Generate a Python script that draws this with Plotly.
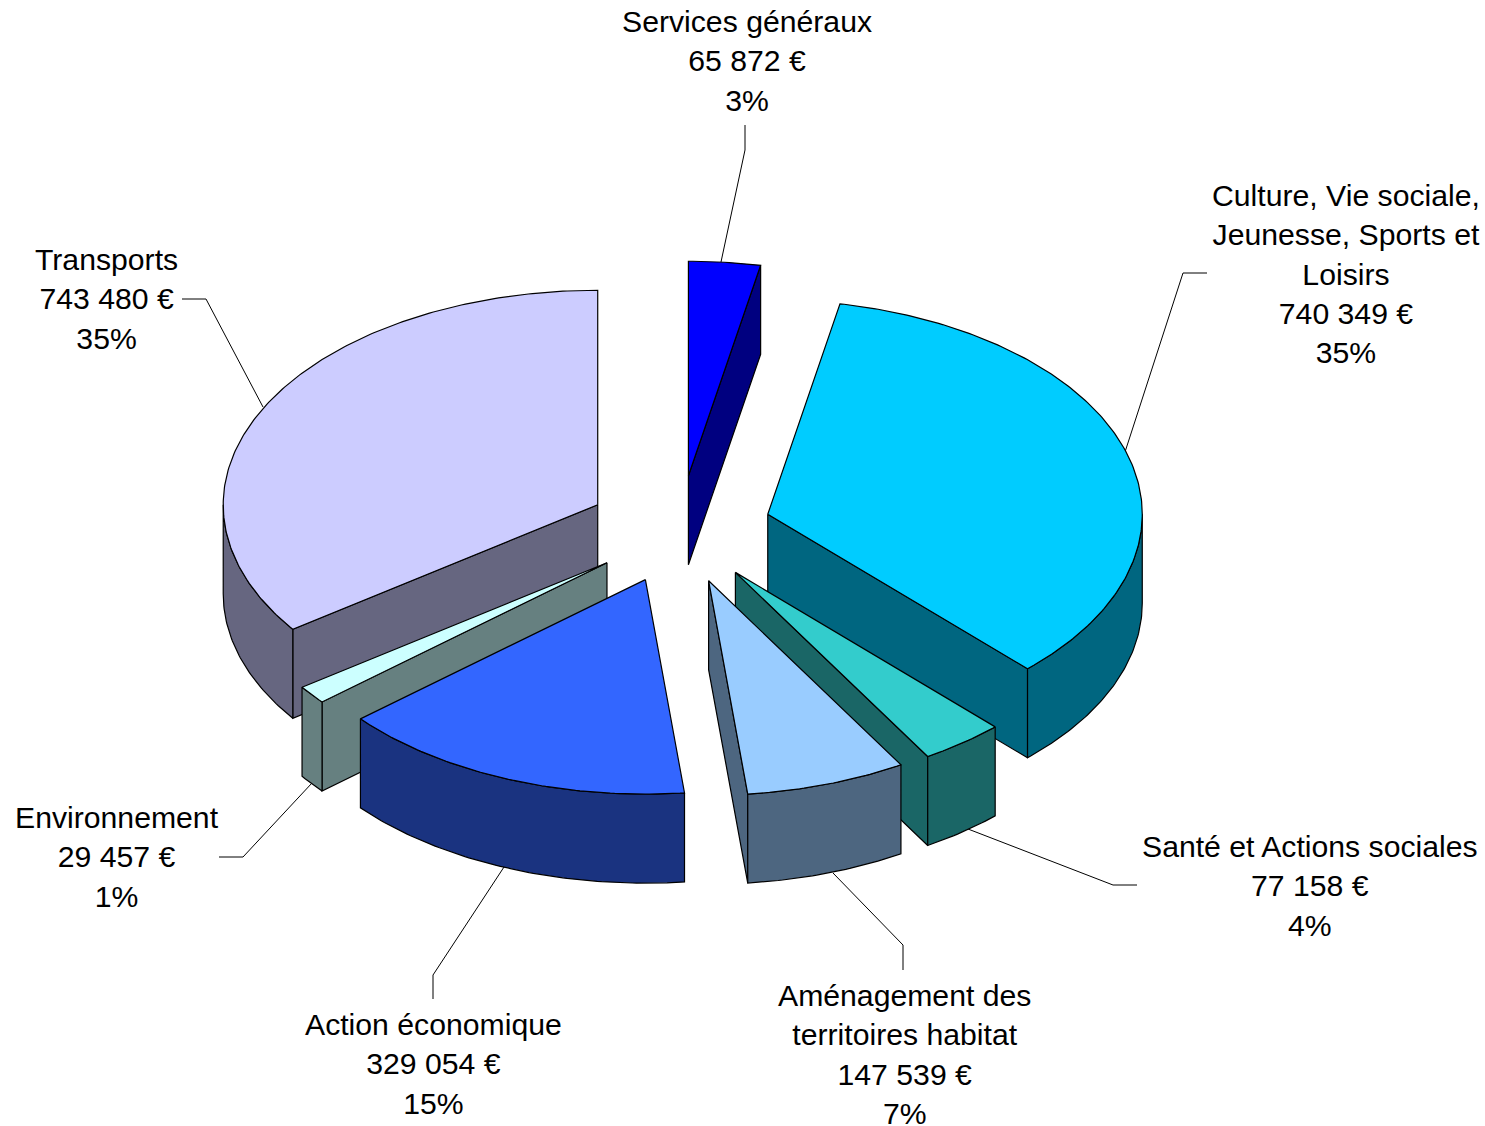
import math
import plotly.graph_objects as go

# --- data -----------------------------------------------------------------
categories = ["Services généraux", "Culture, Vie sociale, Jeunesse, Sports et Loisirs",
              "Santé et Actions sociales", "Aménagement des territoires habitat",
              "Action économique", "Environnement", "Transports"]
label_lines = ["Services généraux", "Culture, Vie sociale,<br>Jeunesse, Sports et<br>Loisirs",
               "Santé et Actions sociales", "Aménagement des<br>territoires habitat",
               "Action économique", "Environnement", "Transports"]
values = [65872, 740349, 77158, 147539, 329054, 29457, 743480]
top_colors = ["#0000FF", "#00CCFF", "#33CCCC", "#99CCFF", "#3366FF", "#CCFFFF", "#CCCCFF"]
side_colors = ["#000080", "#006680", "#1A6666", "#4D6680", "#1A3380", "#668080", "#666680"]

# --- layout of the pie ----------------------------------------------------
W, H = 1485, 1126
CX, CY = 679.5, 529.5     # pie centre
RX, RY = 374.5, 214.5     # ellipse radii of the tilted disc
EXPLODE_X = 92.0          # explosion distance, horizontal
EXPLODE_Y = 54.0          # explosion distance, vertical
DEPTH = 89.0              # thickness
FONT_SIZE = 30.2

label_pos = [(746.5, 61), (1346, 274), (1310, 886), (904, 1054), (433, 1064), (117, 857), (106.5, 299)]
leaders = [
    [(745, 125), (745, 150), (721, 262)],
    [(1207, 273), (1183, 273), (1125, 452)],
    [(1137, 885), (1113, 885), (968, 829)],
    [(903, 970), (903, 945), (833, 873)],
    [(433, 999), (433, 975), (504, 867)],
    [(219, 857), (243, 857), (312, 783)],
    [(182, 299), (206, 299), (263, 407)],
]

total = sum(values)
fig = go.Figure()

# leader lines sit behind the slices
for pts in leaders:
    fig.add_trace(go.Scatter(x=[p[0] for p in pts], y=[p[1] for p in pts], mode="lines",
                             line=dict(color="#000000", width=1), hoverinfo="skip", showlegend=False))


def rim(ax, ay, t0, t1, dy=0.0, n=None):
    n = n or max(2, int(abs(t1 - t0) * 1.5) + 1)
    xs, ys = [], []
    for i in range(n):
        t = math.radians(t0 + (t1 - t0) * i / (n - 1))
        xs.append(ax + RX * math.sin(t))
        ys.append(ay - RY * math.cos(t) + dy)
    return xs, ys


def poly(xs, ys, color, name):
    fig.add_trace(go.Scatter(x=xs + xs[:1], y=ys + ys[:1], mode="lines", fill="toself",
                             fillcolor=color, line=dict(color="#000000", width=1.2),
                             name=name, hoverinfo="name", showlegend=False))


slices = []
acc = 0.0
for i, v in enumerate(values):
    sweep = v / total * 360.0
    slices.append((i, acc, acc + sweep))
    acc += sweep

# painter's order: slices farthest back first
slices.sort(key=lambda s: -math.cos(math.radians((s[1] + s[2]) / 2)))

for i, t0, t1 in slices:
    mid = math.radians((t0 + t1) / 2)
    ax = CX + EXPLODE_X * math.sin(mid)
    ay = CY - EXPLODE_Y * math.cos(mid)
    name = categories[i]
    # radial walls that face the viewer
    for t, visible in ((t0, math.sin(math.radians(t0)) < 0), (t1, math.sin(math.radians(t1)) > 0)):
        if visible:
            ex, ey = rim(ax, ay, t, t, n=2)
            poly([ax, ex[0], ex[0], ax], [ay, ey[0], ey[0] + DEPTH, ay + DEPTH], side_colors[i], name)
    # outer wall: only the front half of the disc (90..270 degrees)
    a, b = max(t0, 90.0), min(t1, 270.0)
    if b > a:
        xs, ys = rim(ax, ay, a, b)
        poly(xs + xs[::-1], ys + [y + DEPTH for y in ys[::-1]], side_colors[i], name)
    # top face
    xs, ys = rim(ax, ay, t0, t1)
    poly([ax] + xs, [ay] + ys, top_colors[i], name)


def fmt(v):
    return f"{v:,}".replace(",", " ") + " €"


annotations = []
for i, (x, y) in enumerate(label_pos):
    pct = round(values[i] / total * 100)
    annotations.append(dict(x=x, y=y, xref="x", yref="y", showarrow=False,
                            xanchor="center", yanchor="middle", align="center",
                            text=f"{label_lines[i]}<br>{fmt(values[i])}<br>{pct}%",
                            font=dict(family="Liberation Sans, Arial, sans-serif", size=FONT_SIZE, color="#000000")))

fig.update_layout(
    width=W, height=H, autosize=False,
    margin=dict(l=0, r=0, t=0, b=0),
    paper_bgcolor="#FFFFFF", plot_bgcolor="#FFFFFF",
    showlegend=False, annotations=annotations,
    xaxis=dict(range=[0, W], visible=False, fixedrange=True),
    yaxis=dict(range=[H, 0], visible=False, fixedrange=True),
)
fig.write_html("out.html", config=dict(displayModeBar=False),
               post_script="document.body.style.margin='0';document.documentElement.style.overflow='hidden';")
